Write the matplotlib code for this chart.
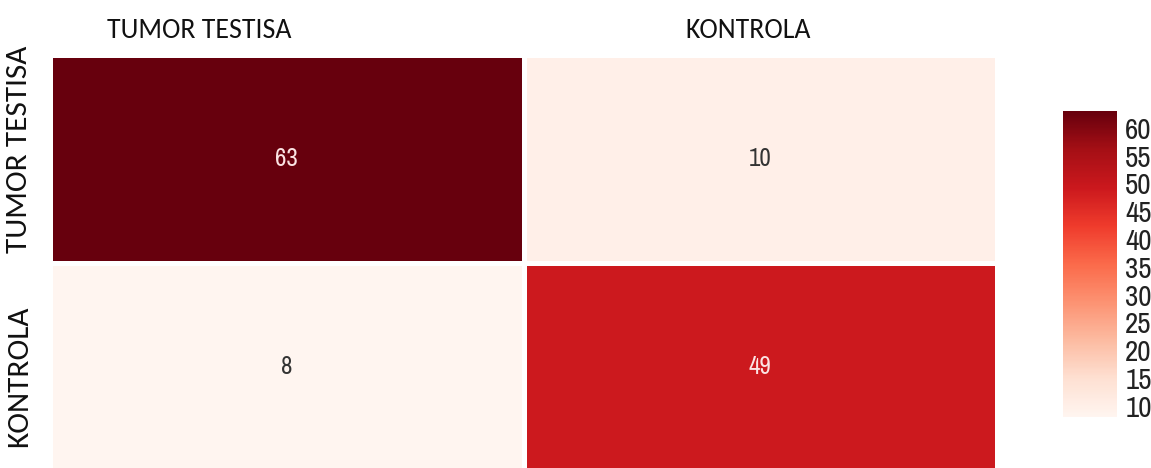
import matplotlib
matplotlib.use("Agg")
import matplotlib.pyplot as plt
from matplotlib.transforms import ScaledTranslation
import numpy as np
import seaborn as sns

row_labels = ["TUMOR TESTISA", "KONTROLA"]
col_labels = ["TUMOR TESTISA", "KONTROLA"]
values = [[63, 10],
          [8, 49]]
cbar_ticks = [10, 15, 20, 25, 30, 35, 40, 45, 50, 55, 60]

W, H = 1151, 468
fig = plt.figure(figsize=(W / 100, H / 100), dpi=100)
ax = fig.add_axes([50 / W, 1 - 471 / H, 947 / W, 416 / H])
cax = fig.add_axes([1063 / W, 1 - 417 / H, 54 / W, 306 / H])

narrow = ["Archivo Narrow", "Roboto Condensed", "DejaVu Sans"]
label_font = ["Carlito", "Open Sans", "DejaVu Sans"]

data = np.array(values)
sns.heatmap(data, ax=ax, cbar_ax=cax, cmap="Reds", vmin=8, vmax=63,
            linewidths=2.5, linecolor="white", annot=False,
            xticklabels=col_labels, yticklabels=row_labels)

for i in range(data.shape[0]):
    for j in range(data.shape[1]):
        v = data[i, j]
        color = "#fbe3e3" if v > 40 else "#333333"
        ax.text(j + 0.5, i + 0.5, str(v), ha="center", va="center",
                fontsize=18, color=color, family=narrow)

ax.xaxis.tick_top()
ax.tick_params(axis="x", length=0, pad=9)
ax.tick_params(axis="y", length=0, pad=13)
ax.set_xticklabels(col_labels, fontsize=20, family=label_font, color="#111111")
ax.set_yticklabels(row_labels, fontsize=22.5, family=label_font, color="#111111",
                   rotation=90, va="center")

# label placement as in the reference (shifted off the cell centres)
x_shift_px = [-88, -12]
y_shift_px = [10, -9]
for lab, dx in zip(ax.get_xticklabels(), x_shift_px):
    lab.set_transform(lab.get_transform() + ScaledTranslation(dx / 100, 0, fig.dpi_scale_trans))
for lab, dy in zip(ax.get_yticklabels(), y_shift_px):
    lab.set_transform(lab.get_transform() + ScaledTranslation(0, dy / 100, fig.dpi_scale_trans))

cax.set_yticks(cbar_ticks)
cax.set_yticklabels([str(t) for t in cbar_ticks], fontsize=21, family=narrow,
                    color="#222222")
cax.tick_params(length=0, pad=6)
for s in cax.spines.values():
    s.set_visible(False)

fig.savefig("out.png", dpi=100)
